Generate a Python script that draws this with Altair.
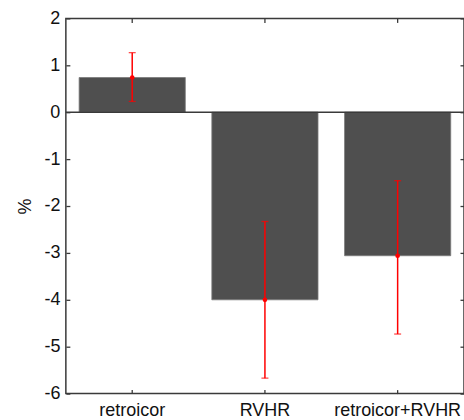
import altair as alt
import pandas as pd

cats = ["retroicor", "RVHR", "retroicor+RVHR"]
means = [0.74, -4.0, -3.06]
err_lo = [0.23, -5.67, -4.73]
err_hi = [1.27, -2.33, -1.46]
y_ticks = [-6, -5, -4, -3, -2, -1, 0, 1, 2]

df = pd.DataFrame({"cat": cats, "val": means, "lo": err_lo, "hi": err_hi})

FONT = "Liberation Sans"
AX = "#3a3a3a"
yscale = alt.Scale(domain=[-6, 2], nice=False, zero=False)
xscale = alt.Scale(paddingInner=0.2, paddingOuter=0.1)

base = alt.Chart(df)

bars = base.mark_bar(color="#4f4f4f", stroke="#7a7a7a", strokeWidth=0.8).encode(
    x=alt.X("cat:N", sort=cats, scale=xscale,
            axis=alt.Axis(orient="bottom", title=None, offset=-4, tickSize=4,
                          domain=False, grid=False, tickColor=AX, tickWidth=1.3,
                          labelAngle=0, labelFont=FONT, labelFontSize=18,
                          labelColor="#111", labelPadding=8)),
    y=alt.Y("val:Q", scale=yscale,
            axis=alt.Axis(orient="left", title="%", offset=-4, tickSize=4,
                          domain=False, grid=False, values=y_ticks, tickColor=AX,
                          tickWidth=1.3, labelExpr="'' + datum.value",
                          labelFont=FONT, labelFontSize=18, labelColor="#111",
                          labelPadding=6, titleFont=FONT, titleFontSize=18,
                          titleFontWeight="normal", titleColor="#111",
                          titlePadding=9)),
)

frame = base.mark_bar(opacity=0).encode(
    x=alt.X("cat:N", sort=cats, scale=xscale,
            axis=alt.Axis(orient="top", title=None, offset=-4, tickSize=4,
                          domain=False, grid=False, labels=False, tickColor=AX,
                          tickWidth=1.3)),
    y=alt.Y("val:Q", scale=yscale,
            axis=alt.Axis(orient="right", title=None, offset=-4, tickSize=4,
                          domain=False, grid=False, labels=False, values=y_ticks,
                          tickColor=AX, tickWidth=1.3)),
)

baseline = alt.Chart(pd.DataFrame({"z": [0]})).mark_rule(color=AX, strokeWidth=1.5).encode(
    y=alt.Y("z:Q", scale=yscale)
)

err = base.mark_rule(color="#ff0000", strokeWidth=1.5).encode(
    x=alt.X("cat:N", sort=cats, scale=xscale),
    y=alt.Y("lo:Q", scale=yscale),
    y2="hi:Q",
)
cap_lo = base.mark_tick(color="#ff0000", size=7, thickness=1.3).encode(
    x=alt.X("cat:N", sort=cats, scale=xscale),
    y=alt.Y("lo:Q", scale=yscale),
)
cap_hi = base.mark_tick(color="#ff0000", size=7, thickness=1.3).encode(
    x=alt.X("cat:N", sort=cats, scale=xscale),
    y=alt.Y("hi:Q", scale=yscale),
)
pts = base.mark_point(color="#ff0000", filled=True, size=22, opacity=1).encode(
    x=alt.X("cat:N", sort=cats, scale=xscale),
    y=alt.Y("val:Q", scale=yscale),
)

main = alt.layer(bars, baseline, err, cap_lo, cap_hi, pts)

chart = alt.layer(main, frame).resolve_scale(x="independent", y="independent").properties(
    width=399, height=376,
    background="white",
    autosize=alt.AutoSizeParams(type="none"),
    padding={"left": 66, "top": 18, "right": 0, "bottom": 26},
).configure_view(stroke=AX, strokeWidth=1.5)

chart.save("out.html", embed_options={"renderer": "svg", "actions": False})
